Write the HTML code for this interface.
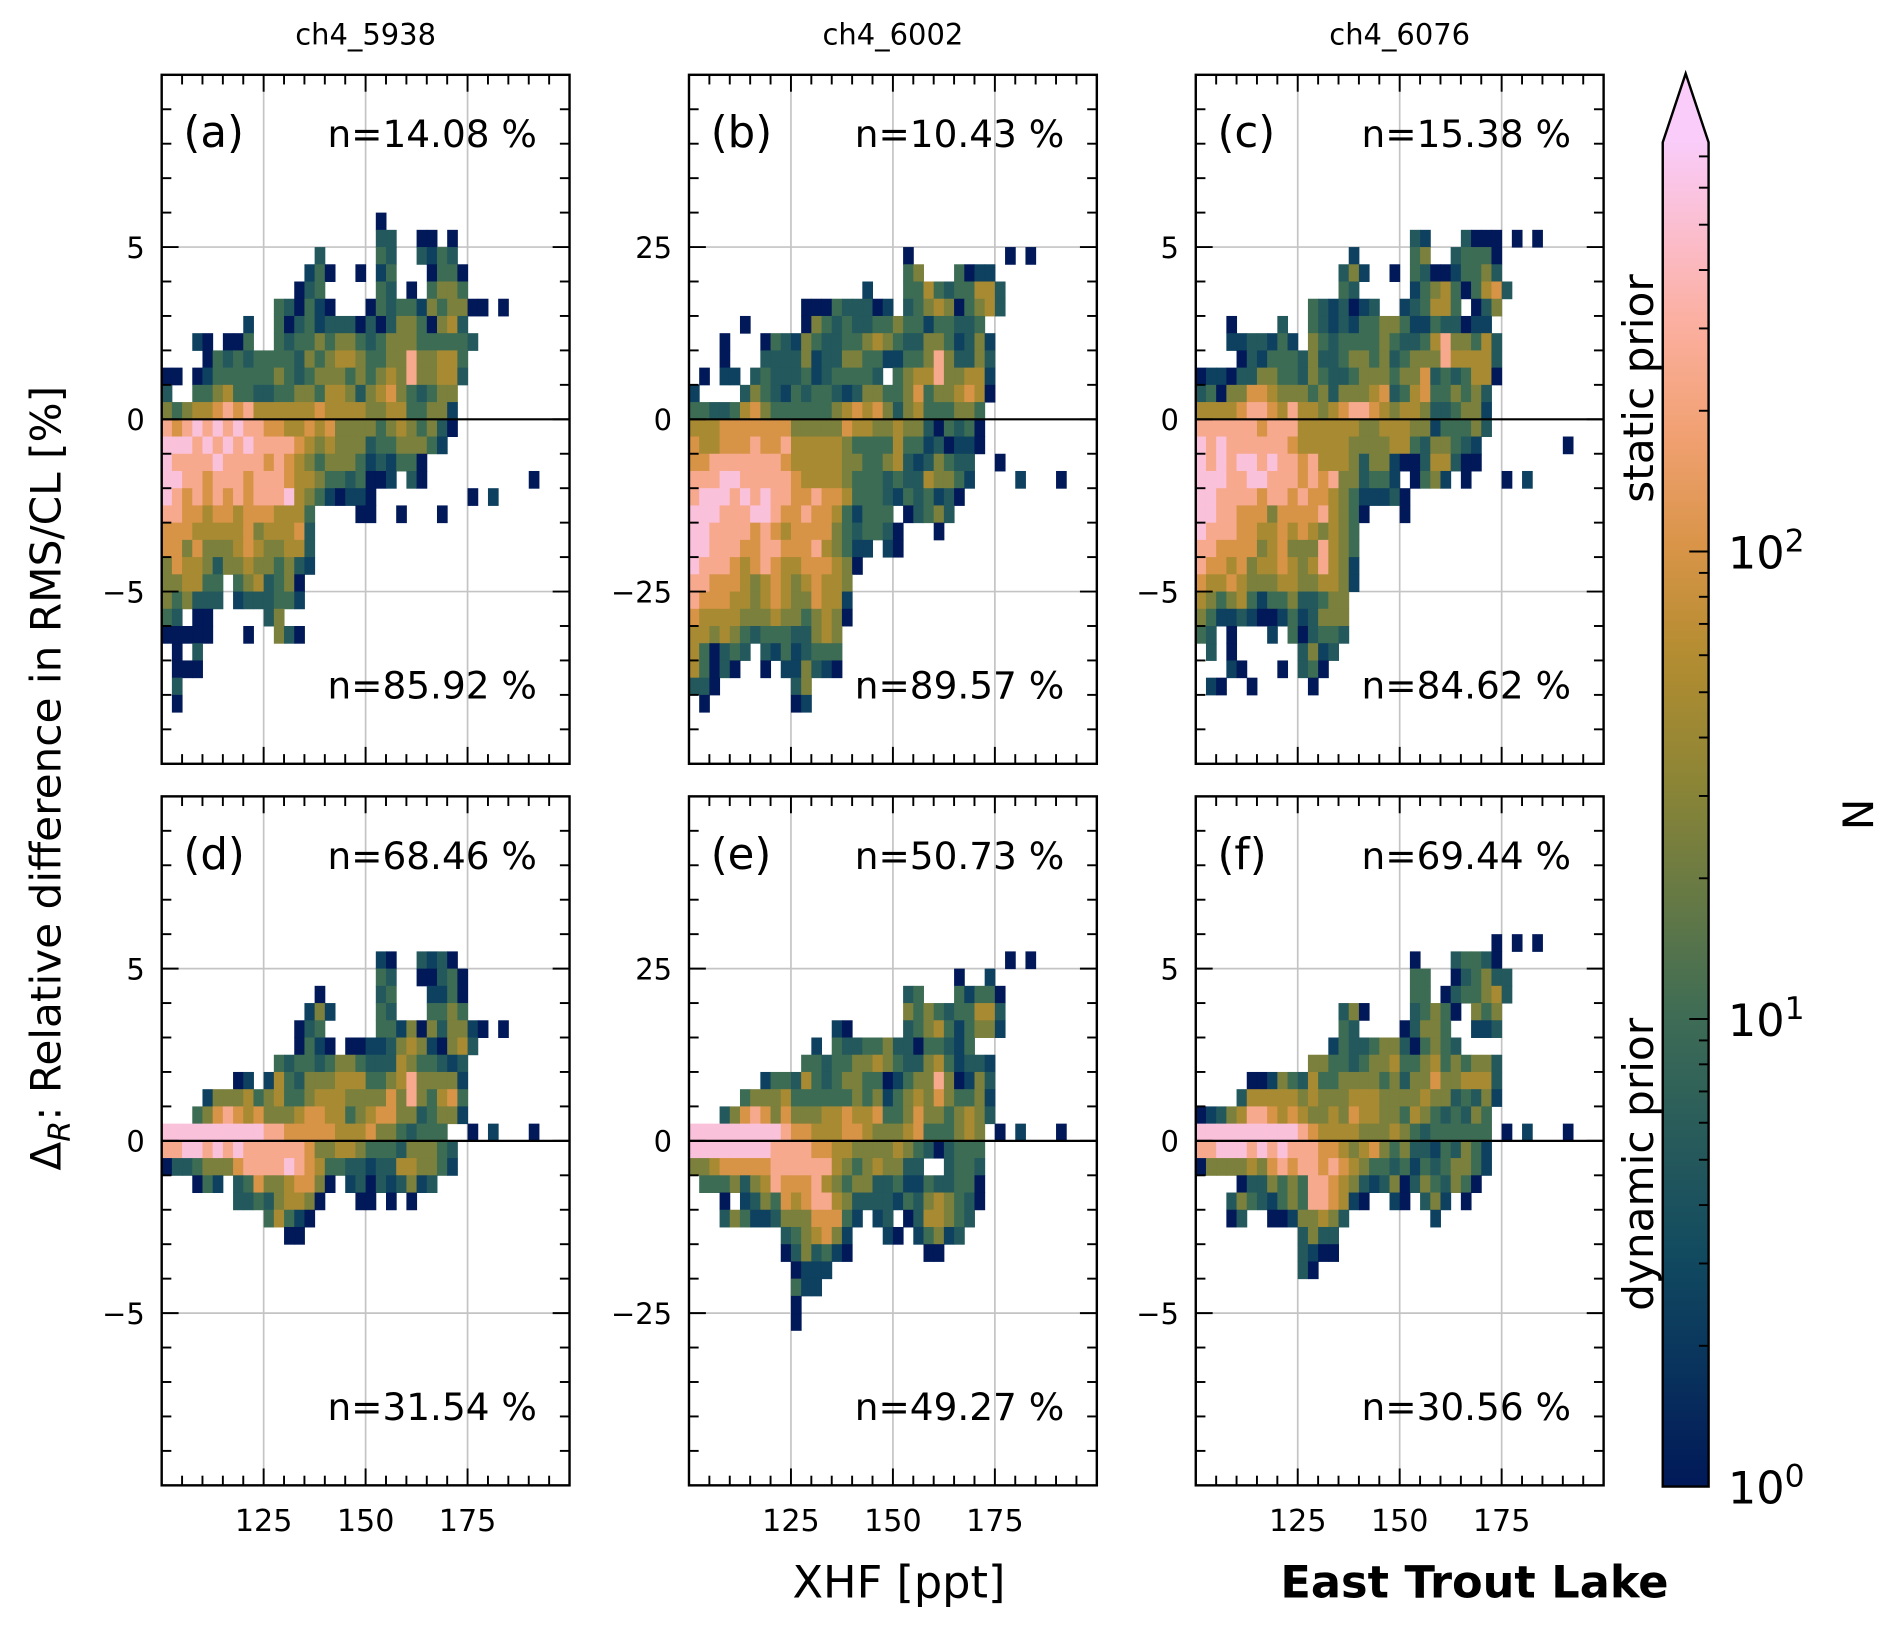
<!DOCTYPE html>
<html><head><meta charset="utf-8"><style>
html,body{margin:0;padding:0;background:#fff;}
svg{display:block;font-family:"DejaVu Sans","Liberation Sans",sans-serif;}
</style></head><body>
<svg id="fig" width="1892" height="1627" viewBox="0 0 1568 1348.4" preserveAspectRatio="none" xmlns="http://www.w3.org/2000/svg">
<defs><linearGradient id="cbgrad" x1="0" y1="1" x2="0" y2="0"></linearGradient></defs>
<g id="panels"></g>
<g id="cbar"></g>
<text transform="translate(50,645) rotate(-90)" text-anchor="middle" font-size="35">Δ<tspan font-size="25" dy="8" font-style="italic">R</tspan><tspan dy="-8">: Relative difference in RMS/CL [%]</tspan></text>
<text x="745" y="1324" text-anchor="middle" font-size="37">XHF [ppt]</text>
<text x="1222" y="1324" text-anchor="middle" font-size="37" font-weight="bold">East Trout Lake</text>
<text transform="translate(1370,322) rotate(-90)" text-anchor="middle" font-size="35">static prior</text>
<text transform="translate(1370,965) rotate(-90)" text-anchor="middle" font-size="35">dynamic prior</text>
<text transform="translate(1527,675) rotate(90)" text-anchor="middle" font-size="35">N</text>
</svg>
<script>
const NS="http://www.w3.org/2000/svg";
// ---- data ----
const columnTitles=["ch4_5938","ch4_6002","ch4_6076"];
const panelLetters=["(a)","(b)","(c)","(d)","(e)","(f)"];
const topPercents=["n=14.08 %","n=10.43 %","n=15.38 %","n=68.46 %","n=50.73 %","n=69.44 %"];
const bottomPercents=["n=85.92 %","n=89.57 %","n=84.62 %","n=31.54 %","n=49.27 %","n=30.56 %"];
const panelYMax=[10,50,10,10,50,10];
const panelYTicks=[[-5,0,5],[-25,0,25],[-5,0,5],[-5,0,5],[-25,0,25],[-5,0,5]];
const xTicks=[125,150,175];
const xRange=[100,200];
const xBinWidth=2.5;
const levelCounts=[0,1,2.5,5,10,25,50,100,250,550];
const cbarMax=750;
const cbarTicks=[1,10,100];
const cbarTickLabels=["10","10","10"];
const cbarTickExps=["0","1","2"];
// grids: [row index, "startCol:levels ..."] ; '.' = empty bin
const gridA=[[11,"21:1"],[10,"21:33 25:11 28:1"],[9,"15:3 21:43 25:3243"],[8,"14:241 19:1 21:24 26:1441"],[7,"13:134 21:43 24:1 26:4554"],[6,"11:431421 20:143442545511 33:1"],[5,"8:2 11:4134233313135541563"],[4,"3:21.114 11:43445455434555444443"],[3,"4:14343444435456654455855664"],[2,"0:11.124444445434555454565855663"],[1,"0:3..44564433445546653567543455"],[0,"0:54566787866666676666556644552"],[-1,"0:87898989887766767555545654531"],[-2,"0:9998989898888765655534455542"],[-3,"0:98888988887876545554232441"],[-4,"0:99887888788876654434112.31 36:1"],[-5,"0:987878787888965421221 30:1 32:2"],[-6,"0:887767767776664 19:11 23:1 27:1"],[-7,"0:777666667566673"],[-8,"0:775755567655663"],[-9,"0:576653556554532"],[-10,"0:556644.4563451"],[-11,"0:545333.2333442"],[-12,"0:43.11 10:35"],[-13,"0:11111 8:1 11:531"],[-14,"1:1.3"],[-15,"1:111"],[-16,"1:3"],[-17,"1:1"]];
const gridB=[[9,"21:1 31:1 33:1"],[8,"21:45 26:4122"],[7,"17:2 21:4464344663"],[6,"11:111433312 21:3456514563"],[5,"5:1 11:154343344544244334"],[4,"3:1 7:14325433445654335542352"],[3,"3:1 7:33335233554422445853353"],[2,"1:1 3:22.3433342344443.4566855662"],[1,"0:2 5:3543243443235544574556761"],[0,"0:44334675444444567675356444554"],[-1,"0:66677777775555576655655314341"],[-2,"0:76677787786666654444644231221"],[-3,"0:7788888887666665544563235433 30:1"],[-4,"0:8889988888766665444343365542 32:2 36:1"],[-5,"0:899989898877877644432434231"],[-6,"0:99988899877877642444.13453"],[-7,"0:998888787677775434431 24:1"],[-8,"0:998887788777865422.21"],[-9,"0:98887678766777651"],[-10,"0:8877765676567665"],[-11,"0:8777665676557662"],[-12,"0:7666655565545651"],[-13,"0:665654344433565"],[-14,"0:641343.32423444"],[-15,"0:64131..1.225321"],[-16,"0:331 10:35"],[-17,"1:1 10:12"]];
const gridC=[[10,"21:32 26:3111 31:1 33:1"],[9,"15:2 21:45 25:34441"],[8,"14:352 19:1 21:431124453"],[7,"14:43 21:2456414673"],[6,"11:4323123 20:234664.135"],[5,"3:1 8:3 11:432324455422433122"],[4,"3:2233242 11:5434444543346855463"],[3,"4:13244435334554534555866663"],[2,"0:122133554435433455545573434661"],[1,"0:34155776555453555673467445453"],[0,"0:66667887686656788765665334552"],[-1,"0:88888878886666665566655244453"],[-2,"0:9898888887666665555664355432 36:1"],[-3,"0:9898998988786665355211366311"],[-4,"0:99988998887878553442.1452.1 30:1 32:2"],[-5,"0:998888788787765422231"],[-6,"0:99887775777786541...1"],[-7,"0:9888776676765654"],[-8,"0:8877775675558654"],[-9,"0:8776756676568652"],[-10,"0:7667655566556652"],[-11,"0:654564244533455"],[-12,"0:542232112423555"],[-13,"0:43.1...2.413443"],[-14,"1:3.1 10:3523"],[-15,"3:21 8:1 10:341"],[-16,"1:21 5:1 11:1"]];
const gridD=[[10,"21:21 25:3231"],[9,"21:43 25:11341"],[8,"15:1 21:34 26:2241"],[7,"14:252 21:43 26:4454"],[6,"13:134 21:44251535521 33:1"],[5,"13:1421.1122356521563"],[4,"11:4344345543336544323"],[3,"7:12.26435556664456855552"],[2,"4:25556456445666555575854674"],[1,"3:457876755567766456775534552"],[0,"0:9999999999887777766675543444 30:1 32:2 36:1"],[-1,"0:88998989888888755665444355543"],[-2,"0:13345557888898764433233665542"],[-3,"3:142.3475567751.231323523"],[-4,"7:334356651 19:11.1.1"],[-5,"10:46421"],[-6,"12:11"]];
const gridE=[[10,"31:1 33:1"],[9,"26:1 29:2"],[8,"21:34 26:42441"],[7,"21:5454344663"],[6,"14:21 21:3456424552"],[5,"12:2.43344533144324"],[4,"11:4434455654335642332"],[3,"7:24436434554412455851253"],[2,"5:4555644444454524565754452"],[1,"3:357875755566766744575545653"],[0,"0:99999999987766677655567444565 30:1 32:2 36:1"],[-1,"0:99999999888877665555654313444"],[-2,"0:55677777888888654565533..3443"],[-3,"1:4445356877786545533422433441"],[-4,"3:1.235476788653333243565431"],[-5,"3:35422355577742.23.1366543"],[-6,"9:3456752 19:21.24523"],[-7,"9:1353421 23:11"],[-8,"10:1222"],[-9,"10:422"],[-10,"10:1"],[-11,"10:1"]];
const gridF=[[11,"29:1 31:1 33:1"],[10,"21:1 25:34431"],[9,"21:44 25:134533"],[8,"21:44 24:1344563"],[7,"14:351 21:34541.545"],[6,"14:43 20:13554 27:223"],[5,"13:2433455314543"],[4,"11:5544345564456454553"],[3,"5:1125436445555453557556663"],[2,"4:36666656555666555565534352"],[1,"0:12356887676556576655465434354"],[0,"0:99999999998766665556543444444 30:1 32:2 36:1"],[-1,"0:88999898988877656754533243542"],[-2,"0:15555657878878765443424345542"],[-3,"4:133545488765323513543541"],[-4,"3:35432454887621 19:21.352.1"],[-5,"3:13..11255653 23:2"],[-6,"10:3533"],[-7,"10:3211"],[-8,"10:31"]];
const grids=[gridA,gridB,gridC,gridD,gridE,gridF];

// ---- layout ----
const colX=[134,571,991], rowY=[62,660], PW=338, PH=571;
const cmapStops=[[0,"#011959"],[0.17,"#114a60"],[0.35,"#3e6c55"],[0.52,"#8a8536"],[0.62,"#b48c30"],[0.70,"#d99448"],[0.78,"#f0a070"],[0.86,"#fbae9c"],[0.93,"#fbbccb"],[1,"#f9ccf9"]];
function hex(h){return [1,3,5].map(i=>parseInt(h.substr(i,2),16));}
function cmap(t){t=Math.max(0,Math.min(1,t));for(let i=1;i<cmapStops.length;i++){if(t<=cmapStops[i][0]){const a=cmapStops[i-1],b=cmapStops[i];const f=(t-a[0])/(b[0]-a[0]);const ca=hex(a[1]),cb=hex(b[1]);return "rgb("+ca.map((v,k)=>Math.round(v+(cb[k]-v)*f)).join(",")+")";}}return cmapStops[cmapStops.length-1][1];}
function colorForCount(n){return cmap(Math.log10(n)/Math.log10(cbarMax));}
function mk(tag,attrs,parent){const e=document.createElementNS(NS,tag);for(const k in attrs)e.setAttribute(k,attrs[k]);if(parent)parent.appendChild(e);return e;}
const root=document.getElementById("panels");

for(let p=0;p<6;p++){
  const px=colX[p%3], py=rowY[Math.floor(p/3)], ymax=panelYMax[p];
  const binH=ymax/20;
  const xs=v=>px+(v-xRange[0])/(xRange[1]-xRange[0])*PW;
  const ys=v=>py+(ymax-v)/(2*ymax)*PH;
  const g=mk("g",{},root);
  
  
  xTicks.forEach(t=>{const l=mk("line",{x1:xs(t),x2:xs(t),y1:py,y2:py+PH,stroke:"#c4c4c4","stroke-width":1.4},g);});
  panelYTicks[p].forEach(t=>{if(t!==0){const l=mk("line",{x1:px,x2:px+PW,y1:ys(t),y2:ys(t),stroke:"#c4c4c4","stroke-width":1.4},g);}});
  const cg=mk("g",{},g);
  
  
  grids[p].forEach(([r,spec])=>{
    spec.split(" ").forEach(seg=>{
      const [s,digits]=seg.split(":");const start=+s;
      for(let i=0;i<digits.length;i++){
        const ch=digits[i]; if(ch===".")continue;
        const c=start+i, n=levelCounts[+ch];
        const x0=xs(xRange[0]+c*xBinWidth), x1=xs(xRange[0]+(c+1)*xBinWidth);
        const y1=ys(r*binH), y0=ys((r+1)*binH);
        const rect=mk("rect",{x:x0,y:y0,width:x1-x0+0.4,height:y1-y0+0.4,fill:colorForCount(n)},cg);
        
        
      }
    });
  });
  const z=mk("line",{x1:px,x2:px+PW,y1:ys(0),y2:ys(0),stroke:"#000","stroke-width":1.8},g);
  
  
  for(let v=105;v<200;v+=5){const major=xTicks.includes(v);const L=major?14:8;
    mk("line",{x1:xs(v),x2:xs(v),y1:py+PH,y2:py+PH-L,stroke:"#000","stroke-width":1.6},g);
    mk("line",{x1:xs(v),x2:xs(v),y1:py,y2:py+L,stroke:"#000","stroke-width":1.6},g);}
  const minorStep=ymax/10;
  for(let k=-9;k<=9;k++){const v=k*minorStep;const major=panelYTicks[p].includes(v);const L=major?14:8;
    mk("line",{x1:px,x2:px+L,y1:ys(v),y2:ys(v),stroke:"#000","stroke-width":1.6},g);
    mk("line",{x1:px+PW,x2:px+PW-L,y1:ys(v),y2:ys(v),stroke:"#000","stroke-width":1.6},g);}
  const fr=mk("rect",{x:px,y:py,width:PW,height:PH,fill:"none",stroke:"#000","stroke-width":2},g);
  
  
  panelYTicks[p].forEach(t=>{const tx=mk("text",{x:px-14,y:ys(t)+9,"text-anchor":"end","font-size":24},g);tx.textContent=(t<0?"\u2212"+(-t):""+t);
    
    });
  if(p>=3){xTicks.forEach(t=>{const tx=mk("text",{x:xs(t),y:py+PH+38,"text-anchor":"middle","font-size":25},g);tx.textContent=t;
    
    });}
  const lt=mk("text",{x:px+18,y:py+60,"font-size":36},g);lt.textContent=panelLetters[p];
  
  
  const tp=mk("text",{x:px+311,y:py+60,"text-anchor":"end","font-size":31},g);tp.textContent=topPercents[p];
  
  
  const bp=mk("text",{x:px+311,y:py+517,"text-anchor":"end","font-size":31},g);bp.textContent=bottomPercents[p];
  
  
  if(p<3){const ct=mk("text",{x:px+PW/2,y:37,"text-anchor":"middle","font-size":24},g);ct.textContent=columnTitles[p];
    
    }
}

// ---- colorbar ----
const cb=document.getElementById("cbar");
const grad=document.getElementById("cbgrad");
for(let i=0;i<=40;i++){mk("stop",{offset:i/40,"stop-color":cmap(i/40)},grad);}
const cbx=1378,cbw=38,cbTop=118,cbBot=1232;
const cy=n=>cbBot-Math.log10(n)/Math.log10(cbarMax)*(cbBot-cbTop);
mk("rect",{x:cbx,y:cbTop,width:cbw,height:cbBot-cbTop,fill:"url(#cbgrad)"},cb);
mk("polygon",{points:`${cbx},${cbTop+0.5} ${cbx+cbw},${cbTop+0.5} ${cbx+cbw/2},61`,fill:cmap(1)},cb);
mk("path",{d:`M${cbx},${cbBot} L${cbx},${cbTop} L${cbx+cbw/2},61 L${cbx+cbw},${cbTop} L${cbx+cbw},${cbBot} Z`,fill:"none",stroke:"#000","stroke-width":2},cb);
for(let d=0;d<3;d++){for(let m=1;m<10;m++){const n=m*Math.pow(10,d);if(n>cbarMax)break;const major=m===1;
  mk("line",{x1:cbx+cbw,x2:cbx+cbw-(major?16:8),y1:cy(n),y2:cy(n),stroke:"#000","stroke-width":1.6},cb);}}
cbarTicks.forEach((n,i)=>{const t=mk("text",{x:1432,y:cy(n)+14,"font-size":37},cb);
  
  
  t.appendChild(document.createTextNode(cbarTickLabels[i]));
  const s=mk("tspan",{dy:-14,"font-size":26},t);s.textContent=cbarTickExps[i];});
</script>
</body></html>
